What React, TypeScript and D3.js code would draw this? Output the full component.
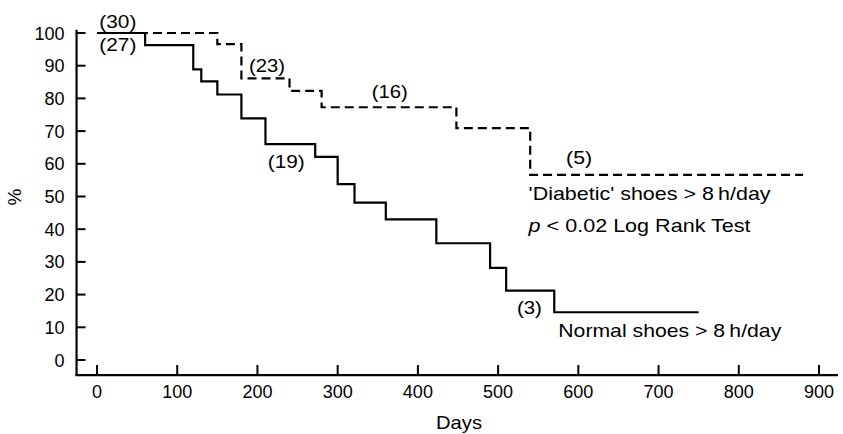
import * as d3 from "d3";

// Kaplan-Meier steps
const normalDays = [0, 60, 120, 130, 150, 180, 210, 272, 300, 321, 360, 423, 490, 510, 570, 750];
const normalPct = [100, 96.3, 88.9, 85.2, 81.2, 73.9, 66.0, 62.1, 53.8, 48.1, 43.0, 35.7, 28.2, 21.2, 14.6, 14.6];

const diabeticDays = [0, 150, 180, 240, 280, 448, 540, 880];
const diabeticPct = [100, 96.6, 86.1, 82.3, 77.3, 70.9, 56.6, 56.6];

const xTicks = [0, 100, 200, 300, 400, 500, 600, 700, 800, 900];
const yTicks = [0, 10, 20, 30, 40, 50, 60, 70, 80, 90, 100];

const WIDTH = 843;
const HEIGHT = 434;
const FONT = "'Liberation Sans', Arial, Helvetica, sans-serif";

export default function App() {
  const x = d3.scaleLinear().domain([0, 900]).range([97, 819]);
  const y = d3.scaleLinear().domain([0, 100]).range([360, 33]);

  const axisX = x(-25.5);
  const axisY = y(-4.6);

  const line = d3
    .line<[number, number]>()
    .x((d) => x(d[0]))
    .y((d) => y(d[1]))
    .curve(d3.curveStepAfter);

  const normal = normalDays.map((d, i) => [d, normalPct[i]] as [number, number]);
  const diabetic = diabeticDays.map((d, i) => [d, diabeticPct[i]] as [number, number]);

  // the original typeface runs a little wider than Liberation Sans
  const wide = { lengthAdjust: "spacingAndGlyphs" as const, fontSize: 19 };

  return (
    <svg
      width={WIDTH}
      height={HEIGHT}
      style={{ position: "absolute", left: 0, top: 0, background: "#fff" }}
      fontFamily={FONT}
      fontSize={18}
    >
      {/* axes */}
      <line x1={axisX} x2={axisX} y1={y(101)} y2={axisY + 1} stroke="#000" strokeWidth={2.2} />
      <line x1={axisX - 1} x2={838} y1={axisY} y2={axisY} stroke="#000" strokeWidth={2.2} />

      {yTicks.map((t) => (
        <g key={"y" + t}>
          <line x1={axisX} x2={axisX + 9} y1={y(t)} y2={y(t)} stroke="#000" strokeWidth={2} />
          <text x={axisX - 12} y={y(t) + 6.5} textAnchor="end">
            {t}
          </text>
        </g>
      ))}

      {xTicks.map((t) => (
        <g key={"x" + t}>
          <line x1={x(t)} x2={x(t)} y1={axisY} y2={axisY - 10} stroke="#000" strokeWidth={2} />
          <text x={x(t)} y={axisY + 23} textAnchor="middle">
            {t}
          </text>
        </g>
      ))}

      <text x={459} y={429} textAnchor="middle" textLength={46} {...wide}>
        Days
      </text>
      <text transform={`translate(21,197) rotate(-90)`} textAnchor="middle" fontSize={19}>
        %
      </text>

      {/* curves */}
      <path d={line(diabetic) ?? ""} fill="none" stroke="#000" strokeWidth={2.2} strokeDasharray="9,5" />
      <path d={line(normal) ?? ""} fill="none" stroke="#000" strokeWidth={2.2} />

      {/* numbers at risk */}
      <text x={x(26)} y={y(100) - 5} textAnchor="middle" textLength={37} {...wide}>(30)</text>
      <text x={x(26)} y={y(100) + 18} textAnchor="middle" textLength={37} {...wide}>(27)</text>
      <text x={x(212)} y={y(86.1) - 6} textAnchor="middle" textLength={36} {...wide}>(23)</text>
      <text x={x(365)} y={y(77.3) - 9} textAnchor="middle" textLength={36} {...wide}>(16)</text>
      <text x={x(236)} y={y(66) + 24} textAnchor="middle" textLength={37} {...wide}>(19)</text>
      <text x={x(601)} y={y(56.6) - 11} textAnchor="middle" textLength={26} {...wide}>(5)</text>
      <text x={x(539)} y={y(14.6) + 2} textAnchor="middle" textLength={25} {...wide}>(3)</text>

      {/* annotations */}
      <text x={x(538)} y={y(56.6) + 25} textLength={242} {...wide}>
        'Diabetic' shoes &gt; 8{"\u2009"}h/day
      </text>
      <text x={x(538)} y={y(56.6) + 57} textLength={222} {...wide}>
        <tspan fontStyle="italic">p</tspan> &lt; 0.02 Log Rank Test
      </text>
      <text x={x(575)} y={y(14.6) + 25} textLength={223} {...wide}>
        Normal shoes &gt; 8{"\u2009"}h/day
      </text>
    </svg>
  );
}
